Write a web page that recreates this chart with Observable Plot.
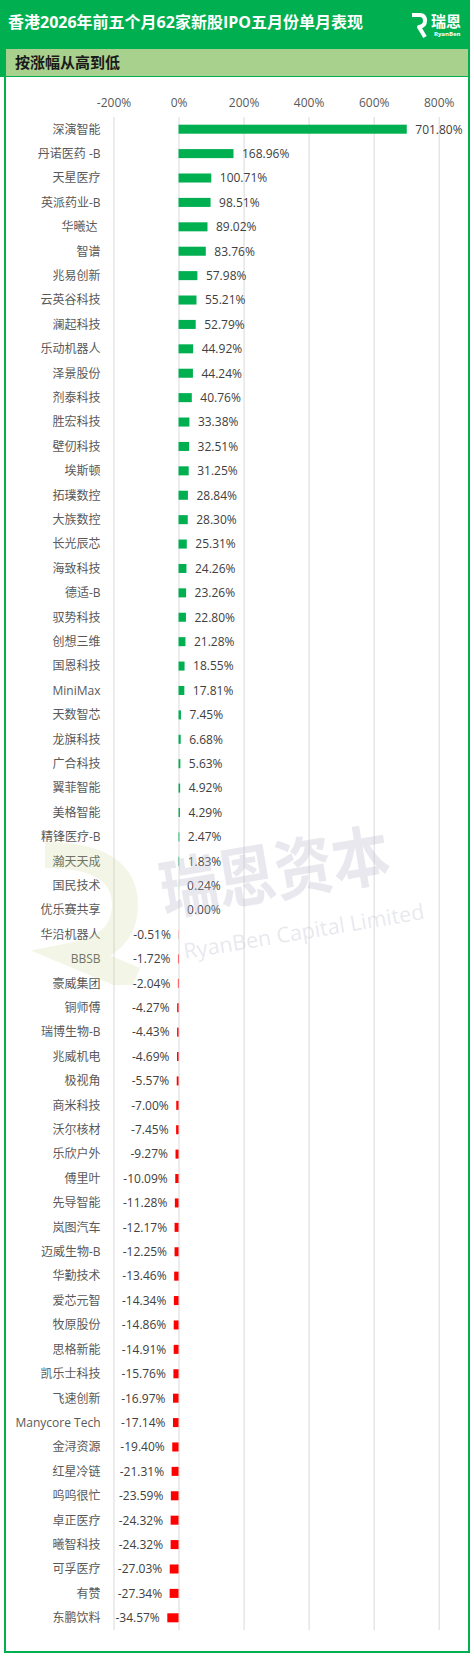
<!DOCTYPE html>
<html>
<head>
<meta charset="utf-8">
<script src="https://cdn.jsdelivr.net/npm/d3@7"></script>
<script src="https://cdn.jsdelivr.net/npm/@observablehq/plot@0.6"></script>
<style>
  html, body { margin: 0; padding: 0; background: #ffffff; }
  body { width: 474px; height: 1660px; position: relative; overflow: hidden;
         font-family: "Open Sans", "Noto Sans CJK SC", sans-serif; }
  #frame { position: absolute; left: 4px; top: 0; width: 466px; height: 1653px;
           box-sizing: border-box; border: 2px solid #00b050; }
  #header { position: absolute; left: 0; top: 0; width: 470px; height: 46px; background: #00b050; }
  #title { position: absolute; left: 8px; top: 11px; font-size: 16px; line-height: 22px;
           font-weight: bold; color: #ffffff; white-space: nowrap; }
  #band { position: absolute; left: 0; top: 46px; width: 470px; height: 31px; background: #00b050; }
  #bandInner { position: absolute; left: 6px; top: 3px; width: 462px; height: 27px; background: #a9d18e; }
  #subtitle { position: absolute; left: 15px; top: 51px; font-size: 15px; line-height: 22px;
              font-weight: bold; color: #1a1a1a; white-space: nowrap; }
  #logoText { position: absolute; left: 431px; top: 12px; font-size: 15px; line-height: 18px;
              font-weight: bold; color: #ffffff; }
  #logoSub { position: absolute; left: 434px; top: 31px; font-size: 6px; line-height: 6px;
             color: #ffffff; font-weight: bold; }
  #logoIcon { position: absolute; left: 410px; top: 12px; }
  #chart { position: absolute; left: 0; top: 77px; line-height: 0; }
  #wm { position: absolute; left: 0; top: 0; width: 474px; height: 1660px; pointer-events: none; }
  .wm1 { position: absolute; left: 166px; top: 846px; font-size: 66px; line-height: 80px; font-weight: bold;
         color: rgba(190,190,205,0.35); transform: rotate(-9.5deg) scaleX(0.88); transform-origin: left bottom;
         white-space: nowrap; font-family: "Noto Sans CJK SC", sans-serif; }
  .wm2 { position: absolute; left: 186px; top: 936px; font-size: 21.5px;
         color: rgba(190,190,205,0.35); transform: rotate(-9.5deg); transform-origin: left bottom;
         white-space: nowrap; }
</style>
</head>
<body>
<div id="frame"></div>
<div id="header"></div>
<div id="title">香港2026年前五个月62家新股IPO五月份单月表现</div>
<svg id="logoIcon" width="18" height="28" viewBox="0 0 18 28">
  <path d="M2 3 H10 Q15 3 15 9 Q15 14 9 15 L15 25" stroke="#ffffff" stroke-width="4" fill="none" stroke-linejoin="round"/>
</svg>
<div id="logoText">瑞恩</div>
<div id="logoSub">RyanBen</div>
<div id="band"><div id="bandInner"></div></div>
<div id="subtitle">按涨幅从高到低</div>
<div id="chart"></div>
<div id="wm">
  <svg style="position:absolute;left:15px;top:835px" width="140" height="150" viewBox="0 0 140 150">
    <path d="M30 20 Q110 20 110 70 Q110 110 60 120 L120 145" stroke="rgba(200,215,140,0.22)" stroke-width="26" fill="none"/>
  </svg>
  <div class="wm1">瑞恩资本</div>
  <div class="wm2">RyanBen Capital Limited</div>
</div>
<script>
const names = [
  "深演智能","丹诺医药 -B","天星医疗","英派药业-B","华曦达 ","智谱","兆易创新","云英谷科技","澜起科技","乐动机器人",
  "泽景股份","剂泰科技","胜宏科技","壁仞科技","埃斯顿","拓璞数控","大族数控","长光辰芯","海致科技","德适-B",
  "驭势科技","创想三维","国恩科技","MiniMax","天数智芯","龙旗科技","广合科技","翼菲智能","美格智能","精锋医疗-B",
  "瀚天天成","国民技术","优乐赛共享","华沿机器人","BBSB","豪威集团","铜师傅","瑞博生物-B","兆威机电","极视角",
  "商米科技","沃尔核材","乐欣户外","傅里叶","先导智能","岚图汽车","迈威生物-B","华勤技术","爱芯元智","牧原股份",
  "思格新能","凯乐士科技","飞速创新","Manycore Tech","金浔资源","红星冷链","呜呜很忙","卓正医疗","曦智科技","可孚医疗",
  "有赞","东鹏饮料"
];
const values = [
  701.80,168.96,100.71,98.51,89.02,83.76,57.98,55.21,52.79,44.92,
  44.24,40.76,33.38,32.51,31.25,28.84,28.30,25.31,24.26,23.26,
  22.80,21.28,18.55,17.81,7.45,6.68,5.63,4.92,4.29,2.47,
  1.83,0.24,0.00,-0.51,-1.72,-2.04,-4.27,-4.43,-4.69,-5.57,
  -7.00,-7.45,-9.27,-10.09,-11.28,-12.17,-12.25,-13.46,-14.34,-14.86,
  -14.91,-15.76,-16.97,-17.14,-19.40,-21.31,-23.59,-24.32,-24.32,-27.03,
  -27.34,-34.57
];
const xTicks = [-200, 0, 200, 400, 600, 800];

const data = names.map((n, i) => ({name: n, value: values[i]}));
const pos = data.filter(d => d.value >= 0);
const neg = data.filter(d => d.value < 0);
const fmt = v => v.toFixed(2) + "%";

const chart = Plot.plot({
  width: 474,
  height: 1560,
  marginTop: 40,
  marginBottom: 7,
  marginLeft: 113.5,
  marginRight: 35.3,
  style: {background: "transparent", fontFamily: "'Open Sans', 'Noto Sans CJK SC', sans-serif", fontSize: "12px", color: "#595959", overflow: "visible"},
  x: {domain: [-200, 800], label: null},
  y: {domain: names, paddingInner: 0.63, paddingOuter: 0.315, round: false, label: null},
  marks: [
    Plot.gridX(xTicks, {stroke: "#d9d9d9", strokeOpacity: 1, strokeWidth: 1}),
    Plot.axisX(xTicks, {anchor: "top", tickSize: 0, tickPadding: 11, tickFormat: d => d + "%", fill: "#595959", fontSize: 12, label: null}),
    Plot.axisY({tickSize: 0, tickPadding: 13.5, fill: "#595959", fontSize: 12, label: null}),
    Plot.barX(pos, {x: "value", y: "name", fill: "#00b050"}),
    Plot.barX(neg, {x: "value", y: "name", fill: "#ff0000"}),
    Plot.text(pos, {x: "value", y: "name", text: d => fmt(d.value), textAnchor: "start", dx: 8, fill: "#404040", fontSize: 12}),
    Plot.text(neg, {x: "value", y: "name", text: d => fmt(d.value), textAnchor: "end", dx: -8, fill: "#404040", fontSize: 12})
  ]
});
document.getElementById("chart").appendChild(chart);
</script>
</body>
</html>
